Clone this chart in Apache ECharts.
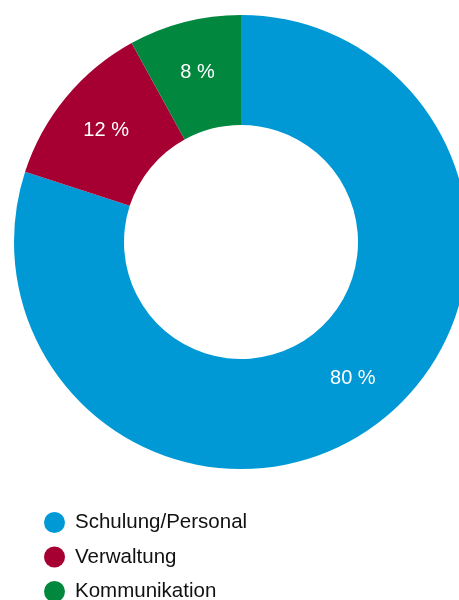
<!DOCTYPE html>
<html>
<head>
<meta charset="utf-8">
<script src="https://cdn.jsdelivr.net/npm/echarts@6/dist/echarts.min.js"></script>
<style>
  html, body { margin: 0; padding: 0; background: #ffffff; }
  #chart { width: 459px; height: 600px; }
</style>
</head>
<body>
<div id="chart"></div>
<script>
const categories = ['Schulung/Personal', 'Verwaltung', 'Kommunikation']
const shares = [80, 12, 8]
const colors = ['#0099d5', '#a60033', '#02873f']

const myChart = echarts.init(document.getElementById('chart'))
myChart.setOption({
  animation: false,
  color: colors,
  legend: {
    orient: 'vertical',
    left: 44,
    top: 512,
    height: 100,
    padding: 0,
    icon: 'circle',
    itemWidth: 21,
    itemHeight: 21,
    itemGap: 13.5,
    textStyle: {
      fontFamily: 'Liberation Sans, Arial, sans-serif',
      fontSize: 20.5,
      color: '#111111',
      padding: [0, 0, 0, 5]
    },
    data: categories
  },
  series: [{
    type: 'pie',
    center: [241, 242],
    radius: [117, 227],
    startAngle: 90,
    clockwise: true,
    avoidLabelOverlap: false,
    label: {
      show: true,
      position: 'inside',
      formatter: '{c} %',
      color: '#ffffff',
      fontFamily: 'Liberation Sans, Arial, sans-serif',
      fontSize: 20
    },
    labelLine: { show: false },
    emphasis: { disabled: true },
    data: categories.map((name, i) => ({
      name: name,
      value: shares[i],
      label: i === 0 ? { offset: [9, -5] } : {}
    }))
  }]
})
window.addEventListener('resize', function() {
  myChart.resize()
})
</script>
</body>
</html>
